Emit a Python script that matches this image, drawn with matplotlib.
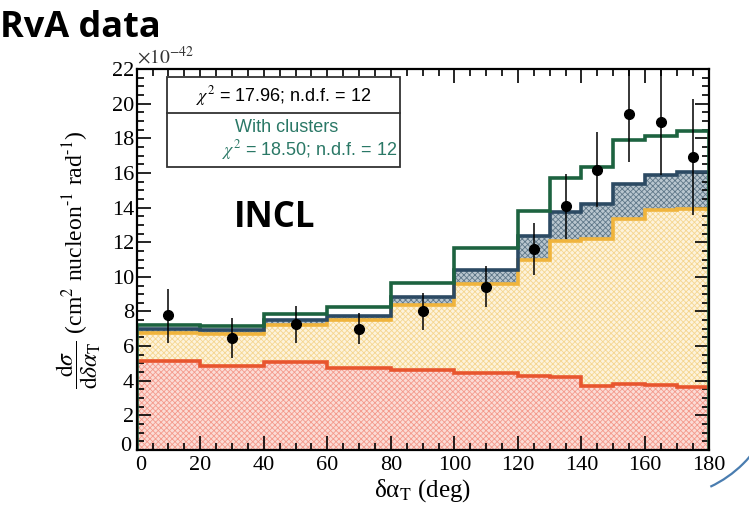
import numpy as np
import matplotlib
matplotlib.use("Agg")
import matplotlib.pyplot as plt
import matplotlib.transforms as mtransforms
from matplotlib.patches import Arc, Rectangle
from matplotlib.ticker import MultipleLocator

# ---------------- data ----------------
bin_edges = [0, 20, 40, 60, 80, 100, 120, 130, 140, 150, 160, 170, 180]
red_vals = [5.13, 4.85, 5.06, 4.71, 4.60, 4.42, 4.27, 4.19, 3.69, 3.81, 3.73, 3.62]
yellow_vals = [6.73, 6.69, 7.21, 7.48, 8.40, 9.58, 10.96, 12.08, 12.21, 13.37, 13.85, 13.94]
blue_vals = [7.00, 6.92, 7.50, 7.73, 8.83, 10.42, 12.35, 13.75, 14.20, 15.35, 15.87, 16.06]
green_vals = [7.21, 7.15, 7.88, 8.27, 9.64, 11.64, 13.79, 15.71, 16.35, 17.93, 18.12, 18.42]

data_x = [10, 30, 50, 70, 90, 110, 125, 135, 145, 155, 165, 175]
data_y = [7.80, 6.45, 7.25, 7.00, 8.00, 9.42, 11.60, 14.10, 16.19, 19.39, 18.93, 16.93]
data_lo = [6.20, 5.30, 6.20, 6.10, 6.95, 8.23, 10.10, 12.21, 14.04, 16.63, 15.87, 13.56]
data_hi = [9.30, 7.60, 8.30, 7.90, 9.05, 10.62, 13.12, 15.97, 18.37, 22.00, 22.00, 20.30]

x_ticks = [0, 20, 40, 60, 80, 100, 120, 140, 160, 180]
y_ticks = [0, 2, 4, 6, 8, 10, 12, 14, 16, 18, 20, 22]

chi2_text = r"$\chi^2$ = 17.96; n.d.f. = 12"
clus_title = "With clusters"
chi2_clus_text = r"$\chi^2$ = 18.50; n.d.f. = 12"

# ---------------- style ----------------
plt.rcParams['mathtext.fontset'] = 'stix'
plt.rcParams['hatch.linewidth'] = 0.6
serif = ['Liberation Serif', 'DejaVu Serif']
sans = ['Liberation Sans', 'DejaVu Sans']

fig = plt.figure(figsize=(7.49, 5.16), dpi=100)
ax = fig.add_axes([0.1825, 0.128, 0.7635, 0.738])

c_red = '#e8552e'
c_yel = '#f0b43c'
c_blue = '#2c4a63'
c_green = '#1d6340'

edges = np.array(bin_edges)
# fills
ax.stairs(red_vals, edges, baseline=0, fill=True, facecolor='#fbdcd6',
          edgecolor='#f49a8c', hatch='xxxxxx', linewidth=0, zorder=1)
ax.stairs(yellow_vals, edges, baseline=red_vals, fill=True, facecolor='#fdf3dc',
          edgecolor='#f5d690', hatch='xxxxxx', linewidth=0, zorder=1)
ax.stairs(blue_vals, edges, baseline=yellow_vals, fill=True, facecolor='#b9c6cf',
          edgecolor='#5f7788', hatch='xxxxxx', linewidth=0, zorder=1)
# lines
ax.stairs(red_vals, edges, baseline=None, color=c_red, linewidth=2.6, zorder=3)
ax.stairs(yellow_vals, edges, baseline=None, color=c_yel, linewidth=2.6, zorder=3)
ax.stairs(blue_vals, edges, baseline=None, color=c_blue, linewidth=2.6, zorder=4)
ax.stairs(green_vals, edges, baseline=0, color=c_green, linewidth=2.6, zorder=5)

# data
yerr = [np.array(data_y) - np.array(data_lo), np.array(data_hi) - np.array(data_y)]
ax.errorbar(data_x, data_y, yerr=yerr, fmt='o', color='black', ms=7,
            elinewidth=1.1, capsize=0, zorder=6, clip_on=True)

ax.set_xlim(0, 180)
ax.set_ylim(0, 22)
ax.set_xticks(x_ticks)
ax.set_yticks(y_ticks)
ax.xaxis.set_minor_locator(MultipleLocator(5))
ax.yaxis.set_minor_locator(MultipleLocator(0.5))
ax.tick_params(which='both', direction='in', top=True, right=True, colors='black',
               labelsize=16, width=1.2)
ax.tick_params(which='major', length=10)
ax.tick_params(which='minor', length=5)
for lab in ax.get_xticklabels() + ax.get_yticklabels():
    lab.set_family(serif)
ax.tick_params(axis='x', pad=4)
ax.tick_params(axis='y', pad=2)
for s in ax.spines.values():
    s.set_linewidth(1.6)
    s.set_zorder(10)

# nudge the two "0" labels at the origin apart
fig.canvas.draw()
ylab0 = ax.get_yticklabels()[0]
ylab0.set_transform(ylab0.get_transform() +
                    mtransforms.ScaledTranslation(-2 / 72, 4 / 72, fig.dpi_scale_trans))
xlab0 = ax.get_xticklabels()[0]
xlab0.set_transform(xlab0.get_transform() +
                    mtransforms.ScaledTranslation(3 / 72, 0, fig.dpi_scale_trans))

ax.set_xlabel(r"δα$_{\mathrm{T}}$ (deg)", fontsize=18, family=serif, labelpad=2)
ax.set_ylabel(r"$\dfrac{\mathrm{d}\sigma}{\mathrm{d}\delta\alpha_{\mathrm{T}}}$ (cm$^{2}$ nucleon$^{\text{-1}}$ rad$^{\text{-1}}$)",
              fontsize=17, family=serif, labelpad=6)

ax.text(0.0, 1.005, r"$\times 10^{-42}$", transform=ax.transAxes, fontsize=14,
        family=serif, ha='left', va='bottom', color='#333333')

# legend box
box = Rectangle((0.053, 0.743), 0.407, 0.236, transform=ax.transAxes, fill=True,
                facecolor='white', edgecolor='#333333', linewidth=1.3, zorder=8)
ax.add_patch(box)
ax.plot([0.053, 0.46], [0.885, 0.885], transform=ax.transAxes, color='#333333',
        lw=1.3, zorder=9)
ax.text(0.258, 0.929, chi2_text, transform=ax.transAxes, ha='center', va='center',
        fontsize=13, family=sans, zorder=9)
ax.text(0.262, 0.848, clus_title, transform=ax.transAxes, ha='center', va='center',
        fontsize=13, family=sans, color='#2a7866', zorder=9)
ax.text(0.303, 0.787, chi2_clus_text, transform=ax.transAxes, ha='center', va='center',
        fontsize=13, family=sans, color='#2a7866', zorder=9)

ax.text(0.17, 0.61, "INCL", transform=ax.transAxes, ha='left', va='center',
        fontsize=25, fontweight='bold', family=['Open Sans', 'DejaVu Sans'], zorder=9)

fig.text(0.0, 0.945, "RvA data", ha='left', va='center', fontsize=26,
         fontweight='bold', family=['Open Sans', 'DejaVu Sans'])

# decorative arc at bottom right
arc = Arc((660 / 749, 1 - 380 / 516), 236 / 749, 236 / 516, angle=0,
          theta1=-72, theta2=-35, transform=fig.transFigure, color='#4a7db0', lw=1.6)
fig.add_artist(arc)

fig.savefig("out.png", dpi=100)
